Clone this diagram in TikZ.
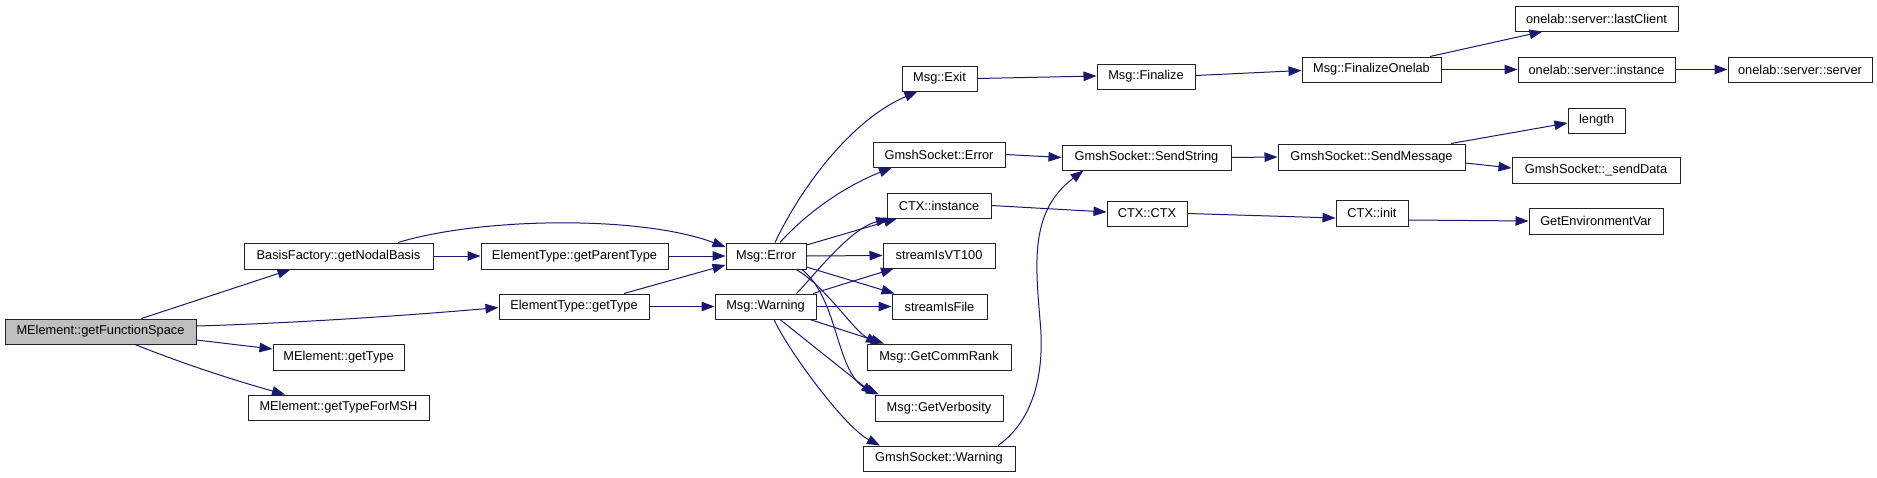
\documentclass[tikz,border=0pt]{standalone}
\usepackage{fontspec}
\setmainfont{Liberation Sans}
\usetikzlibrary{arrows.meta,calc}
\definecolor{edgec}{HTML}{191970}
\definecolor{boxc}{HTML}{222222}
\definecolor{hilite}{HTML}{BFBFBF}
\tikzset{
  fn/.style={draw=boxc, line width=1pt, fill=white, inner sep=0pt, font=\fontsize{12.8}{14}\selectfont},
  ed/.style={draw=edgec, line width=1pt, -{Triangle[length=13pt,width=9.5pt]}}
}
\begin{document}
\begin{tikzpicture}[x=1pt,y=-1pt]
\useasboundingbox[fill=white] (0,0) rectangle (1877,477);
% nodes
\node[fn, fill=hilite, minimum width=191pt, minimum height=25pt] (fs) at (100.5,331.5) {MElement::getFunctionSpace};
\node[fn, minimum width=189pt, minimum height=26pt] (nb) at (338.5,256) {BasisFactory::getNodalBasis};
\node[fn, minimum width=131pt, minimum height=26pt] (mgt) at (338.5,357) {MElement::getType};
\node[fn, minimum width=181pt, minimum height=25pt] (msh) at (338.5,407.5) {MElement::getTypeForMSH};
\node[fn, minimum width=187pt, minimum height=26pt] (gpt) at (574.5,256) {ElementType::getParentType};
\node[fn, minimum width=150pt, minimum height=25pt] (egt) at (574,306.5) {ElementType::getType};
\node[fn, minimum width=80pt, minimum height=26pt] (err) at (766,256) {Msg::Error};
\node[fn, minimum width=101pt, minimum height=25pt] (warn) at (765.5,306.5) {Msg::Warning};
\node[fn, minimum width=75pt, minimum height=25pt] (exit) at (939.5,78.5) {Msg::Exit};
\node[fn, minimum width=132pt, minimum height=25pt] (gse) at (939,154.5) {GmshSocket::Error};
\node[fn, minimum width=104pt, minimum height=25pt] (ctxi) at (939,205.5) {CTX::instance};
\node[fn, minimum width=112pt, minimum height=25pt] (vt) at (939,255.5) {streamIsVT100};
\node[fn, minimum width=95pt, minimum height=25pt] (sf) at (939.5,306.5) {streamIsFile};
\node[fn, minimum width=144pt, minimum height=26pt] (gcr) at (939,357) {Msg::GetCommRank};
\node[fn, minimum width=128pt, minimum height=26pt] (gv) at (939,408) {Msg::GetVerbosity};
\node[fn, minimum width=152pt, minimum height=25pt] (gsw) at (939,458.5) {GmshSocket::Warning};
\node[fn, minimum width=98pt, minimum height=25pt] (fin) at (1146,76.5) {Msg::Finalize};
\node[fn, minimum width=169pt, minimum height=25pt] (ss) at (1146.5,157.5) {GmshSocket::SendString};
\node[fn, minimum width=80pt, minimum height=25pt] (ctx) at (1147,213.5) {CTX::CTX};
\node[fn, minimum width=139pt, minimum height=25pt] (fo) at (1371.5,69.5) {Msg::FinalizeOnelab};
\node[fn, minimum width=187pt, minimum height=26pt] (sm) at (1371.5,157) {GmshSocket::SendMessage};
\node[fn, minimum width=72pt, minimum height=26pt] (init) at (1372,213) {CTX::init};
\node[fn, minimum width=163pt, minimum height=25pt] (lc) at (1596.5,18.5) {onelab::server::lastClient};
\node[fn, minimum width=157pt, minimum height=25pt] (osi) at (1596.5,69.5) {onelab::server::instance};
\node[fn, minimum width=57pt, minimum height=25pt] (len) at (1596.5,120.5) {length};
\node[fn, minimum width=168pt, minimum height=26pt] (sd) at (1596,170) {GmshSocket::\_sendData};
\node[fn, minimum width=134pt, minimum height=26pt] (gev) at (1596,221) {GetEnvironmentVar};
\node[fn, minimum width=144pt, minimum height=25pt] (oss) at (1800,69.5) {onelab::server::server};
\coordinate (gswmid) at (1040,320);
% edges
\draw[ed] ($(fs.north)+(41,0)$) -- ($(nb.south)+(-48,0)$);
\draw[ed] ($(fs.east)+(0,-5.5)$) .. controls +(104,-3) and +(-79,7) .. ($(egt.west)+(0,1)$);
\draw[ed] ($(fs.east)+(0,8.5)$) -- ($(mgt.west)+(0,-8)$);
\draw[ed] ($(fs.south)+(34.5,0)$) .. controls +(50,20) and +(-50,-14) .. ($(msh.north)+(-53.5,0)$);
\draw[ed] ($(nb.north)+(59.5,0)$) .. controls +(82,-25) and +(-86,-32) .. ($(err.west)+(0,-9)$);
\draw[ed] (nb.east) -- (gpt.west);
\draw[ed] (gpt.east) -- (err.west);
\draw[ed] ($(egt.north)+(50,0)$) -- ($(err.west)+(0,9)$);
\draw[ed] (egt.east) -- (warn.west);
\draw[ed] ($(err.north)+(9,0)$) .. controls +(25,-53) and +(-67.5,29) .. ($(exit.south)+(-22,0)$);
\draw[ed] ($(err.north)+(14,0)$) .. controls +(25,-28) and +(-50,20) .. ($(gse.south)+(-47,0)$);
\draw[ed] ($(err.east)+(0,-11)$) -- ($(ctxi.south)+(-42,0)$);
\draw[ed] (err.east) -- (vt.west);
\draw[ed] ($(err.east)+(0,11)$) -- ($(sf.north)+(-45,0)$);
\draw[ed] ($(err.south)+(30,0)$) .. controls +(29,16) and +(-25,-12) .. ($(gcr.north)+(-60,0)$);
\draw[ed] ($(err.south)+(36,0)$) .. controls +(38,31) and +(-44,-20) .. ($(gv.north)+(-60,0)$);
\draw[ed] ($(warn.north)+(31,0)$) .. controls +(18.5,-19) and +(-39,10) .. ($(ctxi.south)+(-50,0)$);
\draw[ed] ($(warn.north)+(47.5,0)$) -- ($(vt.south)+(-45,0)$);
\draw[ed] (warn.east) -- (sf.west);
\draw[ed] ($(warn.south)+(44.5,0)$) -- ($(gcr.north)+(-55,0)$);
\draw[ed] ($(warn.south)+(14.5,0)$) -- ($(gv.north)+(-65,0)$);
\draw[ed] ($(warn.south)+(8.5,0)$) .. controls +(14,31) and +(-35,-18) .. ($(gsw.north)+(-59,0)$);
\draw[ed] (exit.east) -- ($(fin.west)+(0,-0.5)$);
\draw[ed] ($(fin.east)+(0,-1)$) -- ($(fo.west)+(0,1)$);
\draw[ed] ($(fo.north)+(58.5,0)$) -- ($(lc.south)+(-54,0)$);
\draw[ed] (fo.east) -- (osi.west);
\draw[ed] (osi.east) -- (oss.west);
\draw[ed] (gse.east) -- (ss.west);
\draw[ed] ($(gsw.north)+(59,0)$) .. controls +(37,-26) and +(5,50) .. (gswmid) .. controls +(-5,-60) and +(-53,40) .. ($(ss.south)+(-63,0)$);
\draw[ed] (ss.east) -- (sm.west);
\draw[ed] ($(sm.north)+(79.5,0)$) -- ($(len.west)+(0,2.5)$);
\draw[ed] ($(sm.east)+(0,6)$) -- ($(sd.west)+(0,-2)$);
\draw[ed] (ctxi.east) -- ($(ctx.west)+(0,-1.5)$);
\draw[ed] (ctx.east) -- ($(init.west)+(0,5)$);
\draw[ed] ($(init.east)+(0,7)$) -- (gev.west);
\end{tikzpicture}
\end{document}
